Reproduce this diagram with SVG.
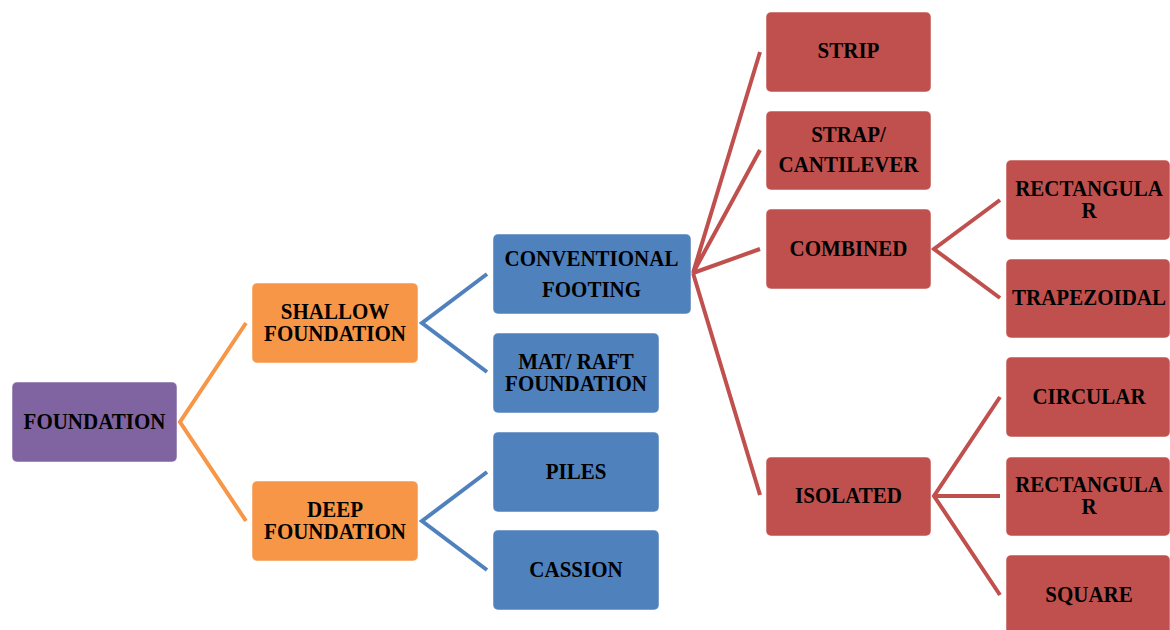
<svg xmlns="http://www.w3.org/2000/svg" width="1170" height="630" viewBox="0 0 1170 630">
<style>
.box{stroke:#ffffff;stroke-opacity:0.5;stroke-width:1}
.p{fill:#8064A2}.o{fill:#F79646}.b{fill:#4F81BD}.r{fill:#C0504D}
.t{font-family:"Liberation Serif","Times New Roman",serif;font-weight:bold;font-size:21px;fill:#000;text-anchor:middle}
.co{stroke:#F79646;stroke-width:4;fill:none}
.cb{stroke:#4F81BD;stroke-width:4;fill:none}
.cr{stroke:#C0504D;stroke-width:4;fill:none}
</style>
<rect width="1170" height="630" fill="#ffffff"/>
<g id="connectors">
<path class="co" d="M246,323 L180,422 L246,521"/>
<path class="cb" d="M487,274 L422,323 L487,372"/>
<path class="cb" d="M487,472 L422,521 L487,570"/>
<path class="cr" d="M760,52 L693,273 L760,150 M693,273 L760,249 M693,273 L760,495"/>
<path class="cr" d="M1000,200 L934,249 L1000,298"/>
<path class="cr" d="M1000,397 L934,496 L1000,595 M934,496 L1000,496"/>
</g>
<g id="n-foundation"><rect class="box p" x="12" y="382" width="165" height="80" rx="5"/>
<text class="t" transform="translate(94.5,429) scale(1,1.08)">FOUNDATION</text></g>
<g id="n-shallow"><rect class="box o" x="252" y="283" width="166" height="80" rx="5"/>
<text class="t" transform="translate(335,319) scale(1,1.08)">SHALLOW</text>
<text class="t" transform="translate(335,341) scale(1,1.08)">FOUNDATION</text></g>
<g id="n-deep"><rect class="box o" x="252" y="481" width="166" height="80" rx="5"/>
<text class="t" transform="translate(335,517) scale(1,1.08)">DEEP</text>
<text class="t" transform="translate(335,539) scale(1,1.08)">FOUNDATION</text></g>
<g id="n-conventional"><rect class="box b" x="493" y="234" width="198" height="80" rx="5"/>
<text class="t" transform="translate(591.5,266) scale(1,1.08)">CONVENTIONAL</text>
<text class="t" transform="translate(591.5,297) scale(1,1.08)">FOOTING</text></g>
<g id="n-mat"><rect class="box b" x="493" y="333" width="166" height="80" rx="5"/>
<text class="t" transform="translate(576,369) scale(1,1.08)">MAT/ RAFT</text>
<text class="t" transform="translate(576,391) scale(1,1.08)">FOUNDATION</text></g>
<g id="n-piles"><rect class="box b" x="493" y="432" width="166" height="80" rx="5"/>
<text class="t" transform="translate(576,479) scale(1,1.08)">PILES</text></g>
<g id="n-cassion"><rect class="box b" x="493" y="530" width="166" height="80" rx="5"/>
<text class="t" transform="translate(576,577) scale(1,1.08)">CASSION</text></g>
<g id="n-strip"><rect class="box r" x="766" y="12" width="165" height="80" rx="5"/>
<text class="t" transform="translate(848.5,58) scale(1,1.08)">STRIP</text></g>
<g id="n-strap"><rect class="box r" x="766" y="111" width="165" height="79" rx="5"/>
<text class="t" transform="translate(848.5,142) scale(1,1.08)">STRAP/</text>
<text class="t" transform="translate(848.5,172) scale(1,1.08)">CANTILEVER</text></g>
<g id="n-combined"><rect class="box r" x="766" y="209" width="165" height="80" rx="5"/>
<text class="t" transform="translate(848.5,256) scale(1,1.08)">COMBINED</text></g>
<g id="n-isolated"><rect class="box r" x="766" y="457" width="165" height="79" rx="5"/>
<text class="t" transform="translate(848.5,503) scale(1,1.08)">ISOLATED</text></g>
<g id="n-rect1"><rect class="box r" x="1006" y="160" width="164" height="80" rx="5"/>
<text class="t" transform="translate(1089,196) scale(1,1.08)">RECTANGULA</text>
<text class="t" transform="translate(1089,218) scale(1,1.08)">R</text></g>
<g id="n-trap"><rect class="box r" x="1006" y="259" width="164" height="79" rx="5"/>
<text class="t" transform="translate(1089,305) scale(1,1.08)">TRAPEZOIDAL</text></g>
<g id="n-circular"><rect class="box r" x="1006" y="357" width="164" height="80" rx="5"/>
<text class="t" transform="translate(1089,404) scale(1,1.08)">CIRCULAR</text></g>
<g id="n-rect2"><rect class="box r" x="1006" y="457" width="164" height="79" rx="5"/>
<text class="t" transform="translate(1089,492) scale(1,1.08)">RECTANGULA</text>
<text class="t" transform="translate(1089,514) scale(1,1.08)">R</text></g>
<g id="n-square"><rect class="box r" x="1006" y="555" width="164" height="80" rx="5"/>
<text class="t" transform="translate(1089,602) scale(1,1.08)">SQUARE</text></g>
</svg>
